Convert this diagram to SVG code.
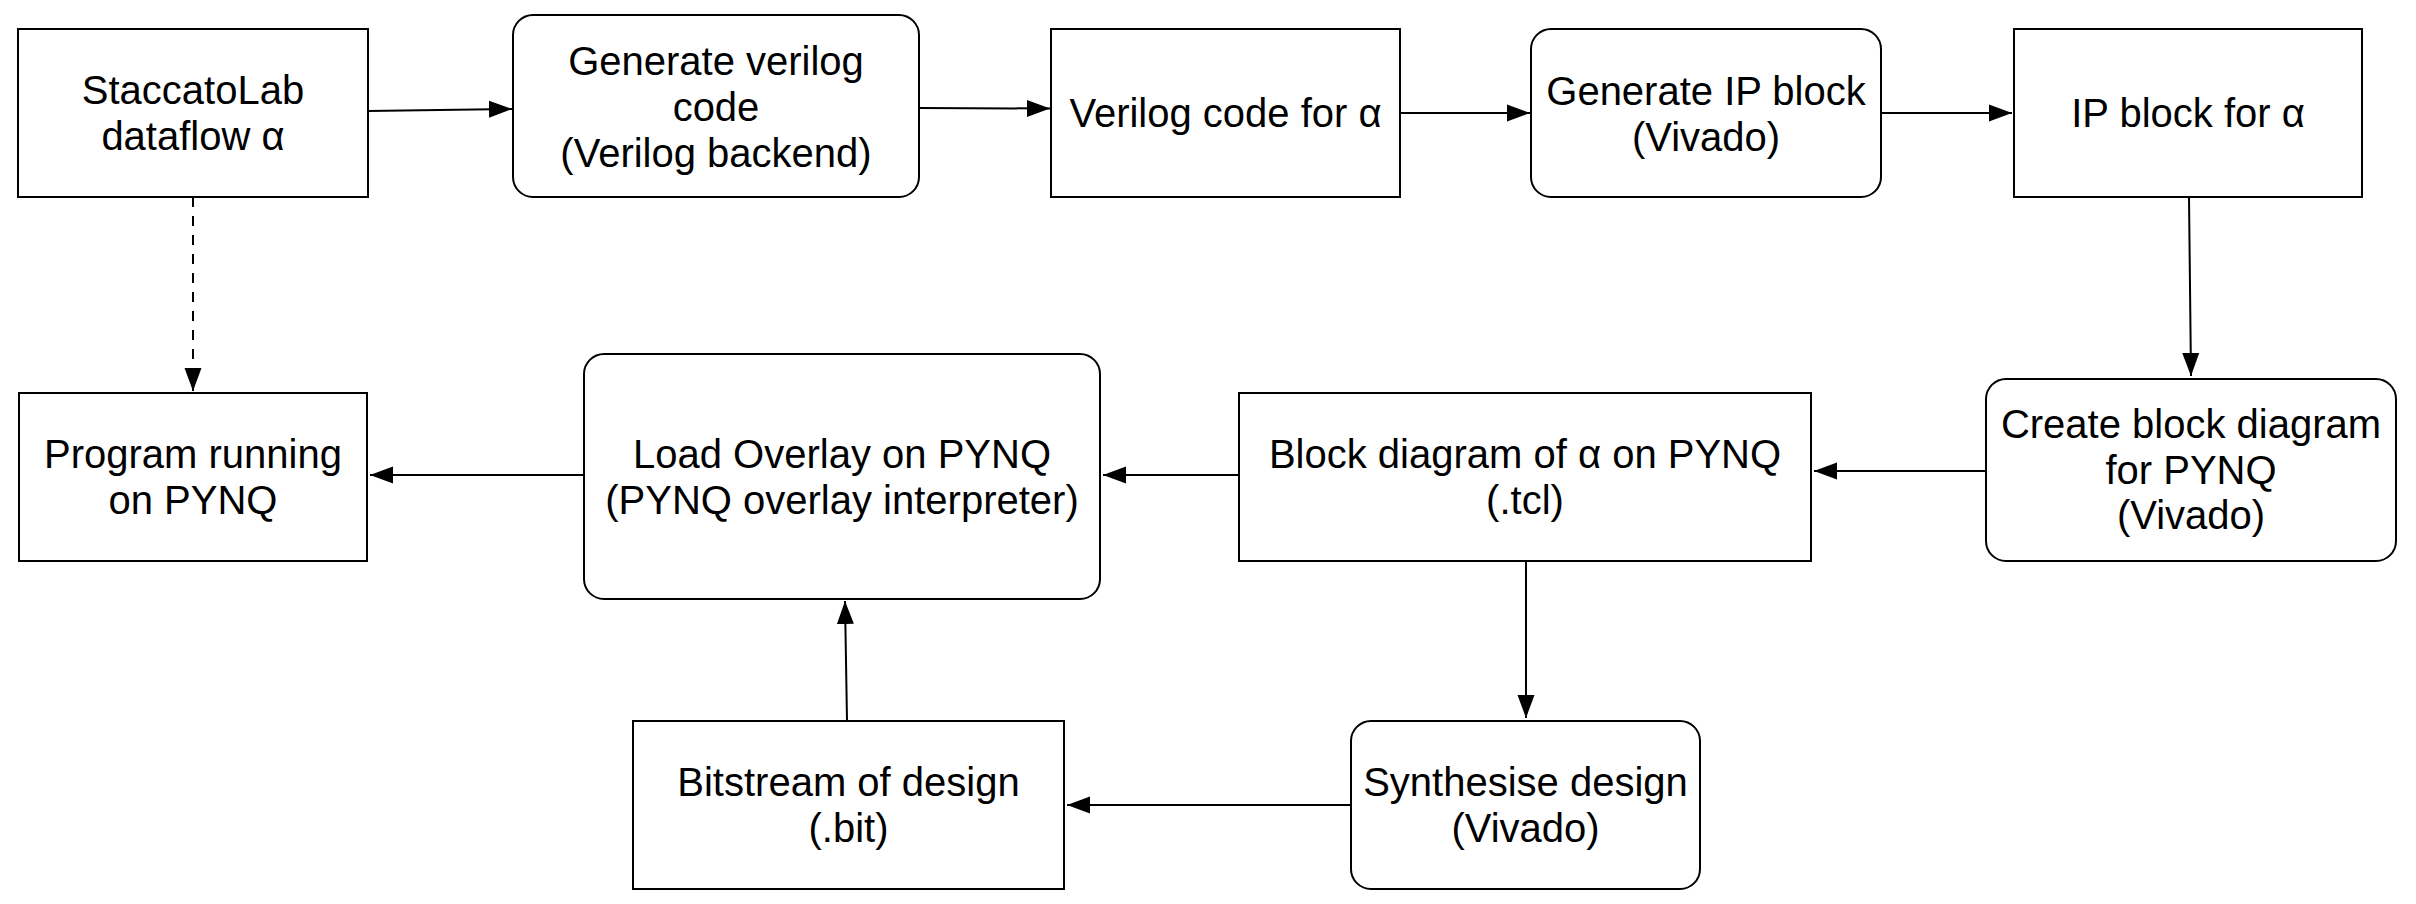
<svg xmlns="http://www.w3.org/2000/svg" width="2416" height="904" viewBox="0 0 2416 904">
<style>
.box{fill:#ffffff;stroke:#000000;stroke-width:2}
.t{font-family:"Liberation Sans",Arial,sans-serif;font-size:40px;fill:#000000;text-anchor:middle}
.c{fill:none;stroke:#000000;stroke-width:2}
.d{stroke-dasharray:10 9}
</style>
<defs>
<marker id="arr" markerWidth="24" markerHeight="18" refX="23" refY="9" orient="auto" markerUnits="userSpaceOnUse">
<path d="M0,0.5 L23,9 L0,17.5 z" fill="#000000"/>
</marker>
</defs>
<rect x="0" y="0" width="2416" height="904" fill="#ffffff"/>
<g id="connectors">
<line class="c" x1="368" y1="111" x2="512" y2="109" marker-end="url(#arr)"/>
<line class="c" x1="919" y1="108" x2="1050" y2="108.5" marker-end="url(#arr)"/>
<line class="c" x1="1400" y1="113" x2="1530" y2="113" marker-end="url(#arr)"/>
<line class="c" x1="1881" y1="113" x2="2012" y2="113" marker-end="url(#arr)"/>
<line class="c" x1="2189" y1="197" x2="2191" y2="376" marker-end="url(#arr)"/>
<line class="c" x1="1986" y1="471" x2="1814" y2="471" marker-end="url(#arr)"/>
<line class="c" x1="1239" y1="475" x2="1103" y2="475" marker-end="url(#arr)"/>
<line class="c" x1="584" y1="475" x2="370" y2="475" marker-end="url(#arr)"/>
<line class="c" x1="1526" y1="561" x2="1526" y2="718" marker-end="url(#arr)"/>
<line class="c" x1="1351" y1="805" x2="1067" y2="805" marker-end="url(#arr)"/>
<line class="c" x1="847" y1="721" x2="845" y2="601" marker-end="url(#arr)"/>
<line class="c d" x1="193" y1="197" x2="193" y2="391" marker-end="url(#arr)"/>
</g>
<g id="staccato">
<rect class="box" x="18" y="29" width="350" height="168"/>
<text class="t" x="193" y="104">StaccatoLab</text>
<text class="t" x="193" y="150">dataflow α</text>
</g>
<g id="gen-verilog">
<rect class="box" x="513" y="15" width="406" height="182" rx="20" ry="20"/>
<text class="t" x="716" y="75">Generate verilog</text>
<text class="t" x="716" y="121">code</text>
<text class="t" x="716" y="167">(Verilog backend)</text>
</g>
<g id="verilog-code">
<rect class="box" x="1051" y="29" width="349" height="168"/>
<text class="t" x="1225.5" y="127">Verilog code for α</text>
</g>
<g id="gen-ip">
<rect class="box" x="1531" y="29" width="350" height="168" rx="20" ry="20"/>
<text class="t" x="1706" y="105">Generate IP block</text>
<text class="t" x="1706" y="151">(Vivado)</text>
</g>
<g id="ip-block">
<rect class="box" x="2014" y="29" width="348" height="168"/>
<text class="t" x="2188" y="127">IP block for α</text>
</g>
<g id="create-bd">
<rect class="box" x="1986" y="379" width="410" height="182" rx="20" ry="20"/>
<text class="t" x="2191" y="438">Create block diagram</text>
<text class="t" x="2191" y="484">for PYNQ</text>
<text class="t" x="2191" y="529">(Vivado)</text>
</g>
<g id="block-diagram">
<rect class="box" x="1239" y="393" width="572" height="168"/>
<text class="t" x="1525" y="468">Block diagram of α on PYNQ</text>
<text class="t" x="1525" y="514">(.tcl)</text>
</g>
<g id="load-overlay">
<rect class="box" x="584" y="354" width="516" height="245" rx="20" ry="20"/>
<text class="t" x="842" y="468">Load Overlay on PYNQ</text>
<text class="t" x="842" y="514">(PYNQ overlay interpreter)</text>
</g>
<g id="program-running">
<rect class="box" x="19" y="393" width="348" height="168"/>
<text class="t" x="193" y="468">Program running</text>
<text class="t" x="193" y="514">on PYNQ</text>
</g>
<g id="bitstream">
<rect class="box" x="633" y="721" width="431" height="168"/>
<text class="t" x="848.5" y="796">Bitstream of design</text>
<text class="t" x="848.5" y="842">(.bit)</text>
</g>
<g id="synthesise">
<rect class="box" x="1351" y="721" width="349" height="168" rx="20" ry="20"/>
<text class="t" x="1525.5" y="796">Synthesise design</text>
<text class="t" x="1525.5" y="842">(Vivado)</text>
</g>
</svg>
